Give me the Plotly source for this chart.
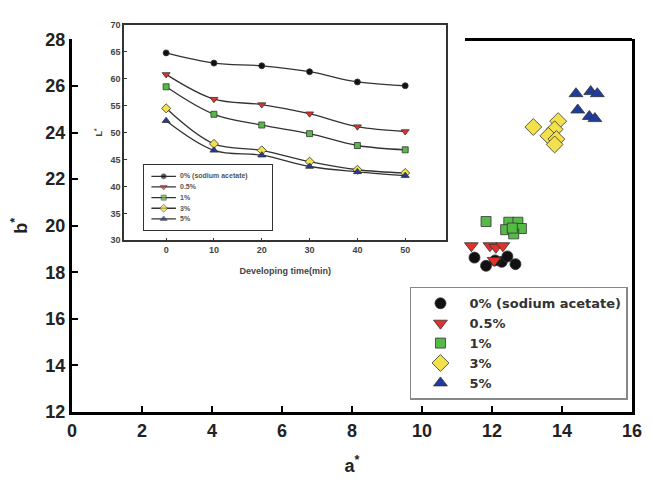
import plotly.graph_objects as go

# ---- main scatter data (a*, b*) ----
names = ["0% (sodium acetate)", "0.5%", "1%", "3%", "5%"]
a_0 = [11.50, 11.83, 12.28, 12.44, 12.67, 12.09]
b_0 = [18.63, 18.28, 18.45, 18.68, 18.35, 18.51]
a_05 = [11.41, 11.94, 12.11, 12.31, 12.06]
b_05 = [19.14, 19.14, 19.07, 19.14, 18.51]
a_1 = [11.83, 12.48, 12.74, 12.39, 12.84, 12.62, 12.58]
b_1 = [20.18, 20.15, 20.15, 19.83, 19.88, 19.65, 19.90]
a_3 = [13.18, 13.89, 13.79, 13.61, 13.84, 13.79]
b_3 = [24.24, 24.49, 24.14, 23.86, 23.72, 23.49]
a_5 = [14.40, 14.82, 15.01, 14.45, 14.78, 14.94]
b_5 = [25.67, 25.76, 25.67, 24.97, 24.69, 24.60]

# ---- inset data (L* vs developing time) ----
time_min = [0, 10, 20, 30, 40, 50]
L_0 = [64.8, 62.9, 62.4, 61.3, 59.4, 58.7]
L_05 = [60.8, 56.2, 55.2, 53.5, 51.1, 50.2]
L_1 = [58.5, 53.4, 51.4, 49.8, 47.6, 46.8]
L_3 = [54.5, 47.9, 46.7, 44.6, 43.1, 42.5]
L_5 = [52.2, 46.7, 45.8, 43.7, 42.7, 42.0]

main_x_ticks = [0, 2, 4, 6, 8, 10, 12, 14, 16]
main_y_ticks = [12, 14, 16, 18, 20, 22, 24, 26, 28]
inset_x_ticks = [0, 10, 20, 30, 40, 50]
inset_y_ticks = [30, 35, 40, 45, 50, 55, 60, 65, 70]

colors = ["#111111", "#e2302a", "#55bb46", "#f2e04c", "#1f3c9c"]
symbols = ["circle", "triangle-down", "square", "diamond", "triangle-up"]
main_sizes = [11, 12, 10, 13, 12]
inset_sizes = [6, 7, 6, 7, 7]

A = [a_0, a_05, a_1, a_3, a_5]
B = [b_0, b_05, b_1, b_3, b_5]
L = [L_0, L_05, L_1, L_3, L_5]

fig = go.Figure()

for i in range(5):
    fig.add_trace(go.Scatter(
        x=A[i], y=B[i], mode="markers", name=names[i],
        marker=dict(symbol=symbols[i], size=main_sizes[i], color=colors[i],
                    line=dict(color="#333333", width=0.8)),
        xaxis="x", yaxis="y", legend="legend"))

for i in range(5):
    fig.add_trace(go.Scatter(
        x=time_min, y=L[i], mode="lines+markers", name=names[i],
        line=dict(color="#333333", width=1.3, shape="spline"),
        marker=dict(symbol=symbols[i], size=inset_sizes[i], color=colors[i],
                    line=dict(color="#333333", width=0.8)),
        xaxis="x2", yaxis="y2", showlegend=False))

# ---- compact legend of the inset (drawn in its own small frame) ----
row_first, row_step = 0.18, 0.164
for i in range(5):
    ry = 1 - (row_first + i * row_step)
    fig.add_trace(go.Scatter(
        x=[0.06, 0.155, 0.25], y=[ry, ry, ry], mode="lines+markers",
        line=dict(color="#333333", width=1.3),
        marker=dict(symbol=symbols[i], size=[0, inset_sizes[i] - 1, 0], color=colors[i],
                    line=dict(color="#333333", width=[0, 0.8, 0])),
        xaxis="x3", yaxis="y3", showlegend=False, hoverinfo="skip"))

H = 484
top_m, bot_m = 20, 61
plot_h = H - top_m - bot_m
main_top = (423 - 39) / plot_h

bold = dict(family="Liberation Sans, Arial, sans-serif", weight="bold")

annotations = []
for i in range(5):
    ry = 1 - (row_first + i * row_step)
    annotations.append(dict(x=0.27, y=ry, xref="x3", yref="y3", text=names[i],
                            showarrow=False, xanchor="left", yanchor="middle",
                            font=dict(size=7, color="#555555", **bold)))

fig.update_layout(
    width=653, height=H,
    margin=dict(l=72, r=11, t=top_m, b=bot_m),
    paper_bgcolor="white", plot_bgcolor="white",
    font=dict(family="Liberation Sans, Arial, sans-serif", color="#222222"),
    xaxis=dict(domain=[0, 1], range=[0, 16], tickvals=main_x_ticks,
               ticks="inside", ticklen=6, tickwidth=2, tickcolor="black",
               showline=True, linewidth=3, linecolor="black",
               showgrid=False, zeroline=False, anchor="y",
               tickfont=dict(size=18, color="#222222", **bold),
               title=dict(text="a<sup>*</sup>", font=dict(size=18, color="#222222", **bold),
                          standoff=20)),
    yaxis=dict(domain=[0, main_top], range=[12, 28], tickvals=main_y_ticks,
               ticks="inside", ticklen=6, tickwidth=2, tickcolor="black",
               showline=True, linewidth=3, linecolor="black", mirror=True,
               showgrid=False, zeroline=False, anchor="x",
               tickfont=dict(size=18, color="#222222", **bold),
               title=dict(text="b<sup>*</sup>", font=dict(size=18, color="#222222", **bold),
                          standoff=14)),
    xaxis2=dict(domain=[(125 - 72) / 570, (453 - 72) / 570], range=[-8.8, 58.6],
                tickvals=inset_x_ticks, ticks="inside", ticklen=3, tickwidth=1,
                tickcolor="#333333", showline=True, linewidth=1.5, linecolor="#333333",
                mirror=True, showgrid=False, zeroline=False, anchor="y2",
                tickfont=dict(size=9, color="#444444", **bold),
                title=dict(text="Developing time(min)",
                           font=dict(size=9, color="#444444", **bold), standoff=14)),
    yaxis2=dict(domain=[(423 - 246) / plot_h, (423 - 24) / plot_h], range=[30, 70],
                tickvals=inset_y_ticks, ticks="inside", ticklen=3, tickwidth=1,
                tickcolor="#333333", showline=True, linewidth=1.5, linecolor="#333333",
                mirror=True, showgrid=False, zeroline=False, anchor="x2",
                tickfont=dict(size=9, color="#444444", **bold),
                title=dict(text="L<sup>*</sup>",
                           font=dict(size=9, color="#444444", **bold), standoff=6)),
    xaxis3=dict(domain=[(145 - 72) / 570, (276 - 72) / 570], range=[0, 1],
                showline=True, linewidth=1, linecolor="#333333", mirror=True,
                showgrid=False, zeroline=False, showticklabels=False, ticks="",
                anchor="y3", fixedrange=True),
    yaxis3=dict(domain=[(423 - 235) / plot_h, (423 - 168) / plot_h], range=[0, 1],
                showline=True, linewidth=1, linecolor="#333333", mirror=True,
                showgrid=False, zeroline=False, showticklabels=False, ticks="",
                anchor="x3", fixedrange=True),
    legend=dict(x=(416 - 72) / 570, y=(423 - 294) / plot_h, xanchor="left", yanchor="top",
                bgcolor="white", bordercolor="#888888", borderwidth=1.5,
                font=dict(size=13, color="#333333", family="DejaVu Sans, sans-serif",
                          weight="bold"),
                itemwidth=48, tracegroupgap=0),
    annotations=annotations,
    shapes=[dict(type="line", xref="x domain", yref="y domain",
                 x0=(472 - 72) / 570, x1=1.0, y0=1, y1=1,
                 line=dict(color="black", width=3))],
    showlegend=True,
)

fig.write_html("out.html")
